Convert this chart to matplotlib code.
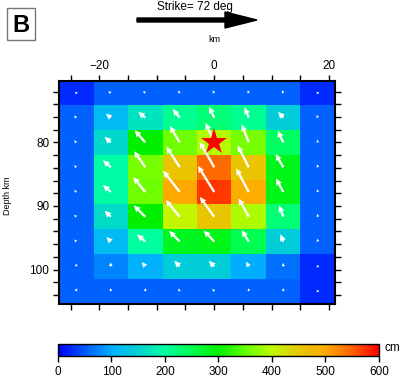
import numpy as np
import matplotlib
matplotlib.use("Agg")
import matplotlib.pyplot as plt
from matplotlib.colors import LinearSegmentedColormap, Normalize
from matplotlib.patches import Rectangle, FancyArrow
import matplotlib.cm as cm

plt.rcParams['font.family'] = ['Liberation Sans', 'DejaVu Sans']

# fault grid (cell centres)
strike_km = [-24, -18, -12, -6, 0, 6, 12, 18]
depth_km = [72.2, 76.1, 80.0, 83.9, 87.8, 91.7, 95.6, 99.5, 103.4]

# slip (cm), rows top -> bottom
slip = [
    [25, 55, 55, 55, 55, 55, 55, 25],
    [55, 115, 170, 210, 225, 210, 145, 55],
    [55, 155, 300, 355, 395, 360, 240, 55],
    [55, 195, 360, 455, 545, 455, 285, 55],
    [55, 195, 355, 500, 570, 495, 285, 55],
    [55, 160, 300, 405, 455, 390, 225, 55],
    [55, 115, 200, 280, 285, 250, 145, 55],
    [55, 75, 105, 145, 145, 100, 65, 25],
    [55, 55, 55, 55, 55, 55, 55, 25],
]

# rake (deg)
rake = [
    [135, 150, 140, 135, 130, 110, 120, 90],
    [140, 141, 140, 129, 115, 112, 131, 110],
    [140, 137, 131, 121, 114, 111, 115, 100],
    [140, 138, 125, 123, 120, 117, 120, 100],
    [140, 138, 129, 128, 122, 118, 118, 100],
    [140, 135, 135, 130, 126, 119, 110, 95],
    [135, 133, 139, 135, 134, 121, 111, 95],
    [90, 90, 130, 135, 135, 120, 90, 90],
    [90, 90, 90, 120, 130, 90, 90, 90],
]

hypo_x, hypo_depth = 0.0, 80.0
cbar_ticks = [0, 100, 200, 300, 400, 500, 600]

stops = [
    (0, (0, 0, 255)), (50, (0, 90, 255)), (100, (0, 175, 255)),
    (150, (0, 210, 210)), (200, (0, 255, 160)), (250, (0, 255, 80)),
    (300, (0, 240, 0)), (350, (100, 255, 0)), (400, (190, 250, 0)),
    (450, (230, 200, 0)), (500, (255, 170, 0)), (550, (255, 100, 0)),
    (600, (255, 0, 0)),
]
cmap = LinearSegmentedColormap.from_list(
    "slip", [(v / 600, tuple(c / 255 for c in col)) for v, col in stops])
norm = Normalize(0, 600)

W, H = 402, 378
fig = plt.figure(figsize=(W / 100, H / 100), dpi=100)
ax = fig.add_axes([59 / W, 1 - 303.5 / H, 276 / W, 223 / H])

sx = np.array(strike_km)
dz = np.array(depth_km)
dxs, dzs = sx[1] - sx[0], dz[1] - dz[0]
xe = np.append(sx - dxs / 2, sx[-1] + dxs / 2)
ze = np.append(dz - dzs / 2, dz[-1] + dzs / 2)
S = np.array(slip, float)
R = np.radians(np.array(rake, float))

ax.pcolormesh(xe, ze, S, cmap=cmap, norm=norm, shading='flat')
X, Z = np.meshgrid(sx, dz)
U = S * np.cos(R)
V = S * np.sin(R)
ax.quiver(X, Z, U, V, angles='uv', scale_units='dots', scale=18.5,
          units='dots', width=2.3, headwidth=2.8, headlength=3.0,
          headaxislength=2.7, color='white', pivot='tail', zorder=3)
ax.plot(hypo_x, hypo_depth, marker='*', color='#ff0000', markersize=20,
        markeredgewidth=0, zorder=4)

ax.set_xlim(xe[0], xe[-1])
ax.set_ylim(ze[-1], ze[0])
ax.set_xticks(np.arange(-25, 21, 5))
ax.set_xticklabels(['' if v % 20 else str(v).replace('-', '\u2212') for v in range(-25, 21, 5)])
ax.set_yticks(np.arange(72, 105, 2))
ax.set_yticklabels([str(v) if v % 10 == 0 else '' for v in range(72, 105, 2)])
ax.tick_params(axis='x', top=True, bottom=True, labeltop=True, labelbottom=False,
               direction='out', length=4, width=1, labelsize=8.5, pad=2)
ax.tick_params(axis='y', left=True, right=True, direction='out', length=4,
               width=1, labelsize=8.5, pad=3)
for sp in ax.spines.values():
    sp.set_linewidth(1.5)

fig.text(8 / W, 1 - 196 / H, 'Depth km', rotation=90, ha='center', va='center', fontsize=6.5)
fig.text(214 / W, 1 - 40 / H, 'km', ha='center', va='center', fontsize=6.5)
fig.text(195 / W, 1 - 7 / H, 'Strike= 72 deg', ha='center', va='center', fontsize=8.5)

# strike arrow and panel letter
arr_ax = fig.add_axes([0, 0, 1, 1], facecolor='none')
arr_ax.set_xlim(0, W)
arr_ax.set_ylim(H, 0)
arr_ax.axis('off')
arr_ax.add_patch(FancyArrow(137, 20, 120, 0, width=4, head_width=16,
                            head_length=32, length_includes_head=True,
                            color='black'))
arr_ax.add_patch(Rectangle((7, 8), 28, 32, fill=False, edgecolor='#777777', lw=1))
arr_ax.text(21, 25, 'B', ha='center', va='center', fontsize=17, fontweight='bold')

# colour bar
cax = fig.add_axes([58 / W, 1 - 356 / H, 321 / W, 12.5 / H])
cb = fig.colorbar(cm.ScalarMappable(norm=norm, cmap=cmap), cax=cax,
                  orientation='horizontal', ticks=cbar_ticks)
cb.outline.set_linewidth(1)
cax.tick_params(direction='out', length=4, width=1, labelsize=8.5, pad=3)
fig.text(385 / W, 1 - 348 / H, 'cm', ha='left', va='center', fontsize=8.5)

fig.savefig('out.png', dpi=100)
